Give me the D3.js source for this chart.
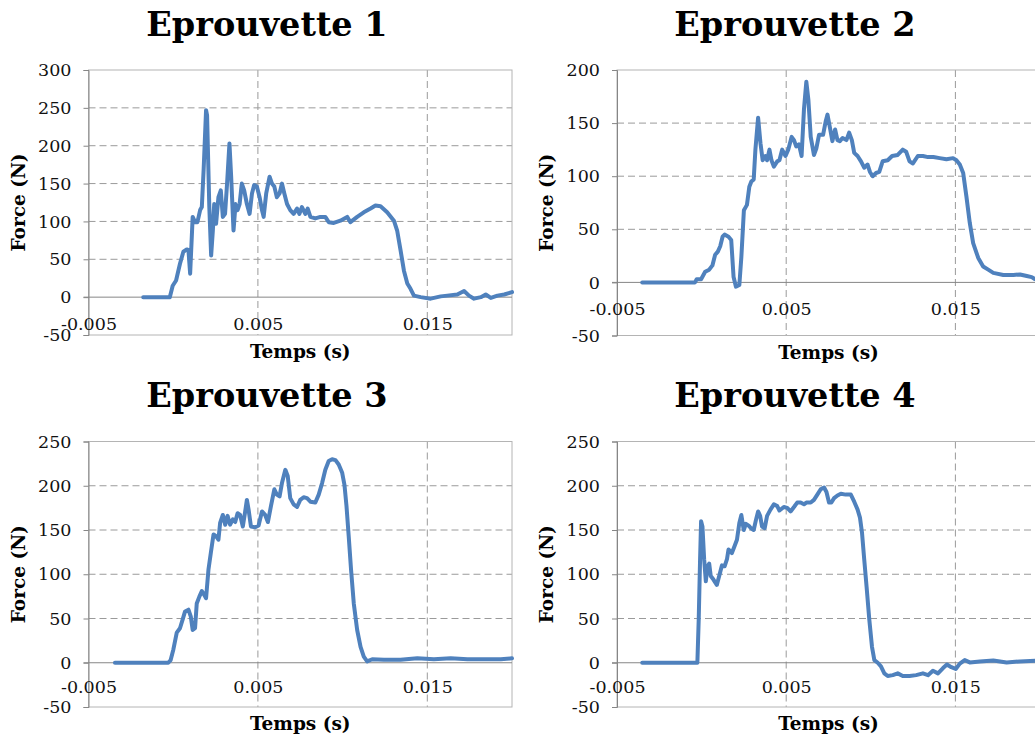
<!DOCTYPE html>
<html><head><meta charset="utf-8">
<script src="https://cdn.jsdelivr.net/npm/d3@7"></script>
<style>body{margin:0;background:#fff}svg{display:block}</style>
</head><body>
<svg id="c" width="1035" height="738"></svg>
<script>
// ---- data ----
const titles = ["Eprouvette 1", "Eprouvette 2", "Eprouvette 3", "Eprouvette 4"];
const xLabel = "Temps (s)";
const yLabel = "Force (N)";
const xTicks = [-0.005, 0.005, 0.015];
const xTickLabels = ["-0.005", "0.005", "0.015"];
const xDomain = [-0.005, 0.02];
const yTicks1 = [-50, 0, 50, 100, 150, 200, 250, 300];
const yTicks2 = [-50, 0, 50, 100, 150, 200];
const yTicks3 = [-50, 0, 50, 100, 150, 200, 250];
const yTicks4 = [-50, 0, 50, 100, 150, 200, 250];

// time in milliseconds, force in N
const time1 = [-1.77,-0.2,-0.03,0.17,0.40,0.60,0.80,0.90,1.0,1.15,1.29,1.43,1.59,1.69,1.80,1.94,2.0,2.13,2.24,2.34,2.42,2.53,2.67,2.81,2.93,3.06,3.18,3.32,3.42,3.56,3.68,3.80,3.92,4.05,4.19,4.35,4.51,4.65,4.78,4.94,5.10,5.24,5.34,5.49,5.69,5.83,5.97,6.12,6.28,6.42,6.56,6.72,6.91,7.11,7.31,7.45,7.60,7.80,7.94,8.10,8.39,8.69,8.98,9.18,9.48,9.87,10.27,10.46,10.86,11.25,11.65,11.94,12.24,12.63,13.03,13.22,13.42,13.62,13.82,14.01,14.21,14.61,15.2,15.79,16.18,16.77,17.17,17.46,17.76,18.16,18.45,18.75,19.14,19.54,20.0];
const force1 = [0,0,15,22,44,60,63,62,31,106,99,99,115,119,170,247,240,120,55,88,123,97,132,141,106,110,150,203,160,88,123,115,123,150,141,123,110,137,148,146,132,115,106,137,159,150,146,132,137,150,137,123,115,110,117,110,119,110,117,106,104,106,106,99,98,101,106,99,106,112,117,121,120,112,101,88,62,35,18,11,2,0,-2,1,2,3.5,8,2,-2,0,3.5,-1,2,3.5,6.6];

const time2 = [-3.51,-1.97,-0.39,-0.29,-0.03,0.21,0.45,0.64,0.80,0.96,1.10,1.24,1.36,1.59,1.75,1.89,2.03,2.23,2.35,2.50,2.68,2.82,2.94,3.08,3.18,3.34,3.48,3.61,3.77,3.87,4.01,4.13,4.27,4.47,4.60,4.76,4.96,5.12,5.32,5.46,5.59,5.75,5.91,6.05,6.19,6.31,6.45,6.64,6.78,6.94,7.18,7.34,7.44,7.57,7.73,7.89,8.03,8.17,8.33,8.56,8.72,8.88,9.02,9.22,9.42,9.61,9.81,9.95,10.11,10.31,10.50,10.70,11.0,11.26,11.59,11.89,12.09,12.29,12.49,12.78,13.08,13.38,13.70,14.07,14.47,14.86,15.06,15.26,15.46,15.65,15.85,16.05,16.35,16.64,16.94,17.24,17.83,18.43,18.82,19.22,19.51,19.71,20.0];
const force2 = [0,0,0,3,3,10,12,16,26,29,34,43,45,43,40,5,-4,-2.5,24,68,73,90,95,97,125,155,131,115,119,115,125,115,109,114,115,125,119,125,137,134,128,130,119,163,189,172,137,120,126,139,139,152,158,147,133,144,134,133,136,134,141,134,122,119,114,108,111,104,100,103,104,114,115,119,120,125,123,114,112,119,119,118,118,117,116,117,115,111,103,81,56,37,23,15,12,9,7,7,7.5,6,5,3,1];

const time3 = [-3.44,-0.29,-0.15,0.01,0.21,0.40,0.56,0.70,0.90,1.04,1.15,1.29,1.39,1.55,1.69,1.82,1.94,2.08,2.22,2.38,2.53,2.67,2.77,2.93,3.07,3.21,3.36,3.52,3.66,3.80,3.95,4.11,4.25,4.35,4.45,4.59,4.84,5.04,5.24,5.43,5.59,5.77,5.97,6.12,6.28,6.42,6.62,6.76,6.91,7.11,7.31,7.50,7.70,7.90,8.10,8.39,8.59,8.79,8.98,9.18,9.38,9.58,9.77,9.97,10.11,10.23,10.36,10.50,10.66,10.86,11.06,11.25,11.45,11.75,12.44,13.42,14.41,15.39,16.38,17.37,18.35,19.34,20.0];
const force3 = [0,0,3,15,34,39,49,58,60,52,37,39,67,75,81,77,73,105,124,145,143,139,158,167,156,166,156,162,159,169,167,154,171,184,173,154,153,155,171,167,159,177,196,190,188,203,218,211,186,179,176,184,187,186,182,181,190,203,218,228,230,229,224,215,201,177,143,105,67,37,18,7,1.5,4,3.4,3.4,5,4,5,4,4,4,5];

const time4 = [-3.51,-0.98,-0.25,-0.17,-0.09,-0.03,0.05,0.15,0.25,0.35,0.45,0.54,0.70,0.90,1.04,1.20,1.36,1.50,1.59,1.79,1.95,2.09,2.23,2.35,2.49,2.62,2.78,2.92,3.08,3.22,3.34,3.46,3.57,3.73,3.87,4.07,4.27,4.47,4.60,4.86,5.06,5.26,5.46,5.65,5.85,6.05,6.19,6.45,6.64,6.84,7.04,7.24,7.38,7.53,7.67,7.83,8.03,8.23,8.52,8.82,9.02,9.22,9.36,9.48,9.61,9.75,9.91,10.07,10.21,10.41,10.60,10.80,11.0,11.30,11.59,11.89,12.29,12.68,13.08,13.38,13.67,13.97,14.27,14.50,14.76,15.02,15.26,15.55,15.85,16.45,17.24,18.03,18.82,19.71,20.0];
const force4 = [0,0,0,49,117,160,154,117,92,109,112,98,94,88,98,110,109,117,128,124,132,139,158,167,150,157,155,152,150,162,171,166,154,152,166,173,179,177,172,176,175,171,176,181,181,179,181,181,184,190,196,198,193,181,181,186,189,191,190,190,182,173,164,147,117,86,49,18,3,0,-4,-12,-15,-14,-12,-15,-15,-14,-12,-14,-9,-12,-6,-2,-5,-7,-1,3,0.4,1.5,2.6,0.4,1.5,2.3,2.3];

// ---- layout ----
const panels = [
  {title: titles[0], time: time1, force: force1, yTicks: yTicks1, left: 88.5, top: 70, right: 512, bottom: 335, titleX: 267, titleY: 36, xlab: 28},
  {title: titles[1], time: time2, force: force2, yTicks: yTicks2, left: 617, top: 70, right: 1040, bottom: 335.5, titleX: 795, titleY: 36, xlab: 28},
  {title: titles[2], time: time3, force: force3, yTicks: yTicks3, left: 88.5, top: 441.5, right: 512, bottom: 707, titleX: 267, titleY: 407, xlab: 25.5},
  {title: titles[3], time: time4, force: force4, yTicks: yTicks4, left: 617, top: 441.5, right: 1040, bottom: 707, titleX: 795, titleY: 407, xlab: 25.5}
];

const svg = d3.select("#c");
const serif = "'DejaVu Serif', serif";
const gridCol = "#9a9a9a", axisCol = "#868686", frameCol = "#b4b4b4", lineCol = "#4f81bd";

panels.forEach((p) => {
  const yDom = d3.extent(p.yTicks);
  const x = d3.scaleLinear().domain(xDomain).range([p.left, p.right]);
  const y = d3.scaleLinear().domain(yDom).range([p.bottom, p.top]);
  const g = svg.append("g");

  // title
  g.append("text").attr("x", p.titleX).attr("y", p.titleY)
    .attr("text-anchor", "middle").attr("font-family", serif)
    .attr("font-weight", "bold").attr("font-size", 33.5).attr("fill", "#000")
    .text(p.title);

  // horizontal dashed grid
  g.selectAll(".hg").data(p.yTicks.filter(v => v !== 0 && v !== yDom[0] && v !== yDom[1]))
    .enter().append("line")
    .attr("x1", p.left).attr("x2", p.right)
    .attr("y1", d => y(d)).attr("y2", d => y(d))
    .attr("stroke", gridCol).attr("stroke-width", 1).attr("stroke-dasharray", "7,4");
  // vertical dashed grid
  g.selectAll(".vg").data(xTicks.filter(v => v > xDomain[0]))
    .enter().append("line")
    .attr("y1", p.top).attr("y2", p.bottom)
    .attr("x1", d => x(d)).attr("x2", d => x(d))
    .attr("stroke", gridCol).attr("stroke-width", 1).attr("stroke-dasharray", "7,4");

  // frame
  g.append("rect").attr("x", p.left).attr("y", p.top)
    .attr("width", p.right - p.left).attr("height", p.bottom - p.top)
    .attr("fill", "none").attr("stroke", frameCol).attr("stroke-width", 1);

  // y axis
  const yAxis = d3.axisLeft(y).tickValues(p.yTicks).tickSize(5);
  const ya = g.append("g").attr("transform", `translate(${p.left},0)`).call(yAxis);
  ya.select(".domain").attr("stroke", axisCol);
  ya.selectAll(".tick line").attr("stroke", axisCol);
  ya.selectAll(".tick text").attr("font-family", serif).attr("font-size", 17.5)
    .attr("fill", "#111").attr("x", -17).text(d => String(d));

  // zero line
  g.append("line").attr("x1", p.left - 5).attr("x2", p.right)
    .attr("y1", y(0)).attr("y2", y(0)).attr("stroke", axisCol).attr("stroke-width", 1);

  // x tick labels (placed under zero line)
  const xAxis = d3.axisBottom(x).tickValues(xTicks).tickSize(0)
    .tickFormat((d, k) => xTickLabels[k]);
  const xa = g.append("g").attr("transform", `translate(0,${y(0)})`).call(xAxis);
  xa.select(".domain").remove();
  xa.selectAll(".tick text").attr("font-family", serif).attr("font-size", 17.5)
    .attr("fill", "#111").attr("dy", null)
    .attr("dominant-baseline", "middle").attr("y", p.xlab);

  // axis labels
  g.append("text").attr("x", (p.left + p.right) / 2).attr("y", p.bottom + 23)
    .attr("text-anchor", "middle").attr("font-family", serif).attr("font-weight", "bold")
    .attr("font-size", 18.5).attr("fill", "#000").text(xLabel);
  g.append("text")
    .attr("transform", `translate(${p.left - 64},${(p.top + p.bottom) / 2}) rotate(-90)`)
    .attr("text-anchor", "middle").attr("font-family", serif).attr("font-weight", "bold")
    .attr("font-size", 18.5).attr("fill", "#000").text(yLabel);

  // data line
  const pts = p.time.map((t, k) => [t / 1000, p.force[k]]);
  const line = d3.line().x(d => x(d[0])).y(d => y(d[1]));
  g.append("path").datum(pts).attr("d", line)
    .attr("fill", "none").attr("stroke", lineCol).attr("stroke-width", 4)
    .attr("stroke-linejoin", "round").attr("stroke-linecap", "round");
});
</script>
</body></html>
